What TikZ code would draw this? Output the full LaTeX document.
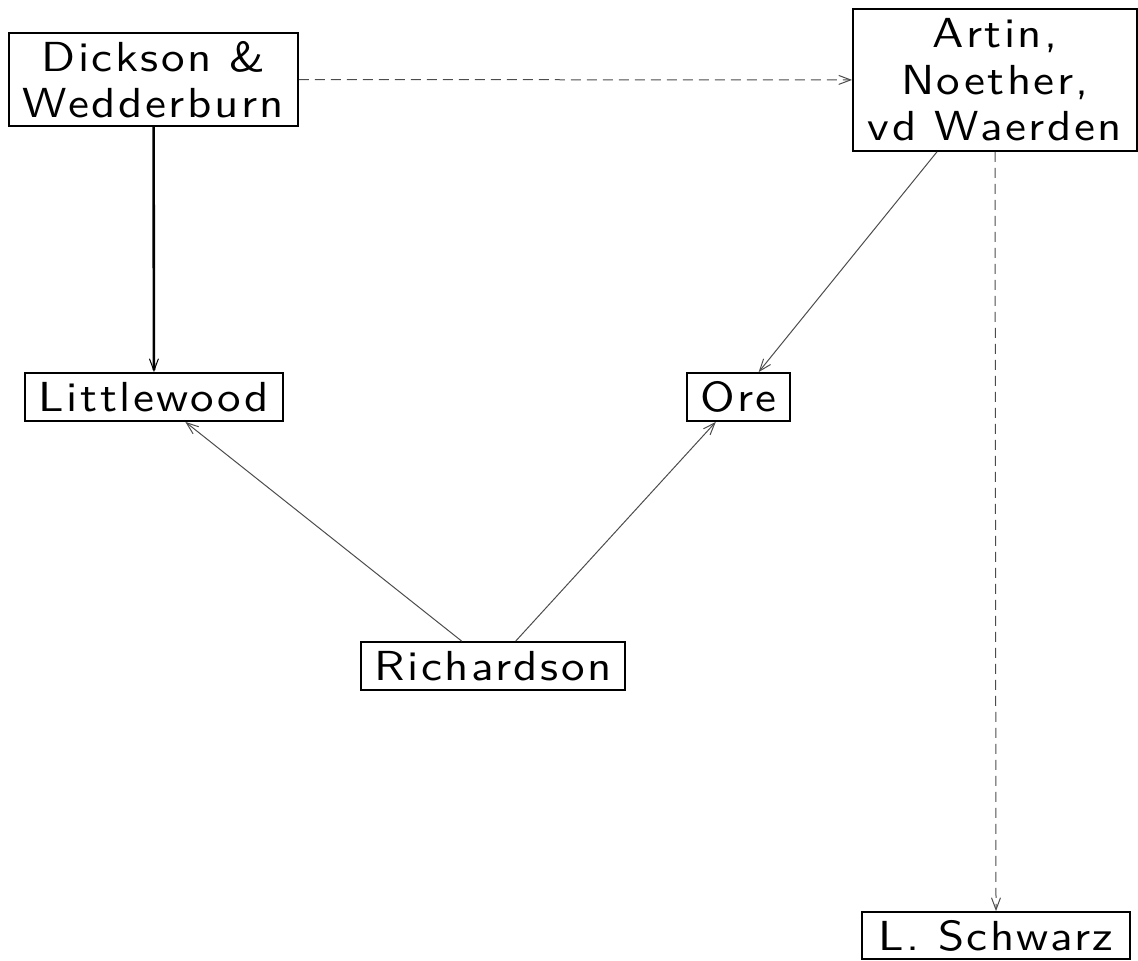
\documentclass[tikz,border=0pt]{standalone}
\usepackage{fontspec}
\usetikzlibrary{arrows.meta}
\newfontfamily\diagfont[FakeStretch=1.12,LetterSpace=6]{lmsans10-regular.otf}
\begin{document}
\begin{tikzpicture}[x=0.5pt,y=-0.5pt,
  box/.style={draw=black,line width=0.9pt,inner sep=0pt,align=center,font=\diagfont\fontsize{21}{23.3}\selectfont},
  edge/.style={draw=black!70,line width=0.5pt,-{Straight Barb[length=6pt,width=4.5pt]}},
  dedge/.style={edge,dash pattern=on 5pt off 3pt},
  strong/.style={draw=black,line width=1.3pt,-{Straight Barb[length=6pt,width=4.5pt,line width=0.5pt]}}]
\useasboundingbox (0,0) rectangle (1138,960);
\node[box,minimum width=144.5pt,minimum height=46.5pt] (dw) at (153.5,79.5) {Dickson \&\\Wedderburn};
\node[box,minimum width=142pt,minimum height=71pt] (anw) at (995,80) {Artin,\\Noether,\\vd Waerden};
\node[box,minimum width=129pt,minimum height=24pt] (lw) at (154,397) {Littlewood};
\node[box,minimum width=51.5pt,minimum height=24pt] (ore) at (738.5,397) {Ore};
\node[box,minimum width=132pt,minimum height=24pt] (rich) at (493,666) {Richardson};
\node[box,minimum width=134pt,minimum height=23.5pt] (ls) at (996,935.5) {L. Schwarz};
\draw[dedge] (dw) -- (anw);
\draw[strong] (dw) -- (lw);
\draw[edge] (anw) -- (ore);
\draw[dedge] (anw.south) -- (ls.north);
\draw[edge] (rich) -- (lw);
\draw[edge] (rich) -- (ore);
\end{tikzpicture}
\end{document}
